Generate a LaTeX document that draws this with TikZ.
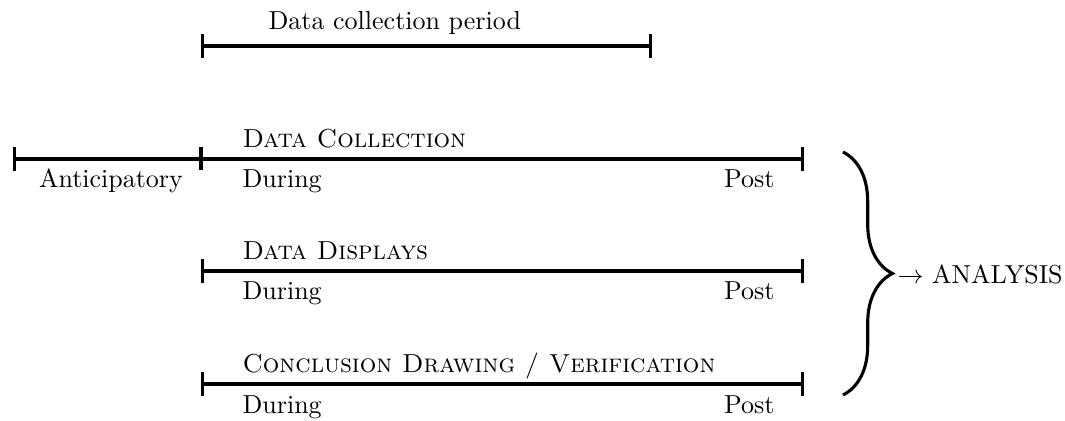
\documentclass[tikz,border=0pt]{standalone}
\usetikzlibrary{arrows.meta,decorations.pathreplacing}
\begin{document}
\begin{tikzpicture}[x=0.3846pt,y=-0.3846pt,
  period/.style={line width=1.2pt,{Bar[width=9pt]}-{Bar[width=9pt]}},
  tick/.style={line width=1.2pt},
  lbl/.style={inner sep=0pt,font=\normalsize},
  bracestyle/.style={line width=1.2pt,decorate,decoration={brace,amplitude=19pt}}]
\useasboundingbox (0,0) rectangle (1065,421);
% top period
\coordinate (p0) at (201,46);
\coordinate (p1) at (652,46);
\draw[period] (p0) -- (p1);
\node[lbl,anchor=base west] (ptxt) at (268,30) {Data collection period};
% row 1
\coordinate (a0) at (13,159);
\coordinate (a1) at (201,159);
\coordinate (a2) at (804,159);
\draw[period] (a0) -- (a2);
\draw[tick] (a1) ++(0,-11.5) -- ++(0,23);
\node[lbl,anchor=base] (ant) at (111,188) {Anticipatory};
\node[lbl,anchor=base west] (c1) at (242,148) {\textsc{Data Collection}};
\node[lbl,anchor=base west] (d1) at (242,188) {During};
\node[lbl,anchor=base east] (e1) at (775,188) {Post};
% row 2
\coordinate (b1) at (201,271);
\coordinate (b2) at (804,271);
\draw[period] (b1) -- (b2);
\node[lbl,anchor=base west] (c2) at (242,260) {\textsc{Data Displays}};
\node[lbl,anchor=base west] (d2) at (242,300) {During};
\node[lbl,anchor=base east] (e2) at (775,300) {Post};
% row 3
\coordinate (r1) at (201,384);
\coordinate (r2) at (804,384);
\draw[period] (r1) -- (r2);
\node[lbl,anchor=base west] (c3) at (242,373) {\textsc{Conclusion Drawing / Verification}};
\node[lbl,anchor=base west] (d3) at (242,413) {During};
\node[lbl,anchor=base east] (e3) at (775,413) {Post};
% brace
\coordinate (bt) at (843,152);
\coordinate (bb) at (843,395);
\draw[bracestyle] (bt) -- (bb);
\node[lbl,anchor=base west] (an) at (897,284) {$\rightarrow$ ANALYSIS};
\end{tikzpicture}
\end{document}
